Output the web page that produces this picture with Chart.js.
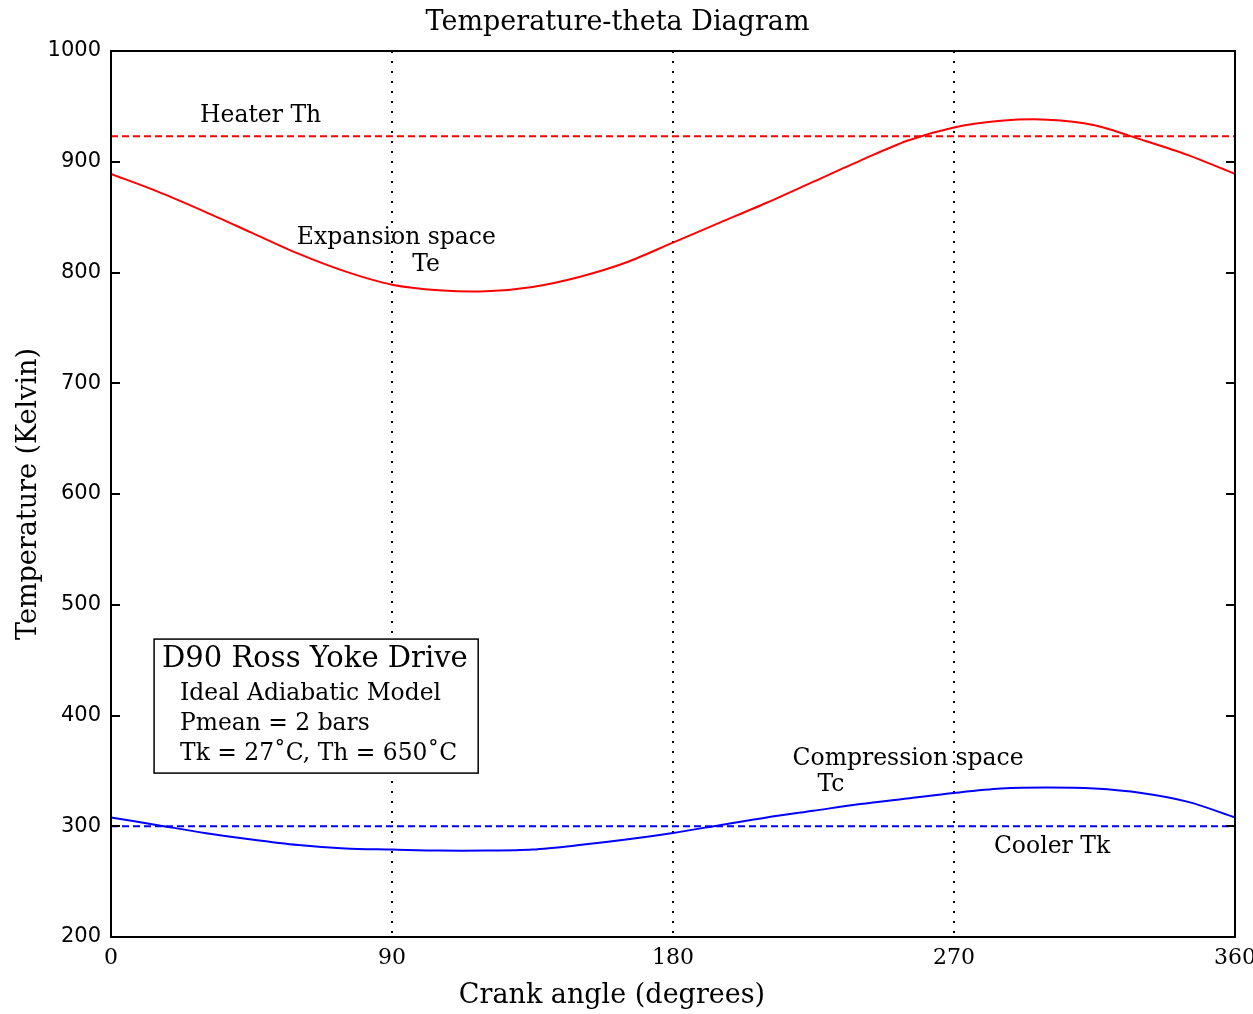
<!DOCTYPE html>
<html>
<head>
<title>Temperature-theta Diagram</title>
<script src="https://cdn.jsdelivr.net/npm/chart.js"></script>
<style>
  body { margin: 0; background: #ffffff; }
  #chart { display: block; }
</style>
</head>
<body>
<canvas id="chart" width="1253" height="1014"></canvas>
<script>
// crank angle (degrees)
const angles = [0, 15, 30, 45, 60, 75, 90, 105, 120, 135, 150, 165, 180,
                195, 210, 225, 240, 255, 270, 285, 300, 315, 330, 345, 360];
// expansion space temperature Te (K)
const expansionTe = [889, 873, 855, 836, 817, 801, 789, 784, 783, 787, 796, 809, 827,
                     845, 863, 882, 901, 919, 931, 937, 938, 933, 920, 906, 889];
// compression space temperature Tc (K)
const compressionTc = [308, 301, 294, 288, 283, 280, 279, 278, 278, 279, 283, 288, 294,
                       301, 308, 314, 320, 325, 330, 334, 335, 334, 330, 322, 308];
// heater and cooler (constant over the cycle)
const lineAngles = [0, 360];
const heaterTh = [923, 923];
const coolerTk = [300, 300];

const serif = '"DejaVu Serif", "Liberation Serif", serif';
const sans = '"DejaVu Sans", "Liberation Sans", sans-serif';

const pts = (xs, ys) => xs.map((x, i) => ({ x: x, y: ys[i] }));

// text drawn on the plot, placed in data units
const notes = [
  { text: 'Heater Th', x: 28.5, y: 941, align: 'left' },
  { text: 'Expansion space', x: 91.4, y: 831, align: 'center' },
  { text: 'Te', x: 100.9, y: 806.5, align: 'center' },
  { text: 'Compression space', x: 255.3, y: 360.5, align: 'center' },
  { text: 'Tc', x: 230.6, y: 337, align: 'center' },
  { text: 'Cooler Tk', x: 301.4, y: 281, align: 'center' }
];

const boxLines = ['Ideal Adiabatic Model', 'Pmean = 2 bars', 'Tk = 27\u02DAC, Th = 650\u02DAC'];

const framePlugin = {
  id: 'frame',
  afterDraw(chart) {
    const { ctx, chartArea: a, scales: { x, y } } = chart;
    ctx.save();
    ctx.strokeStyle = '#000';
    ctx.lineWidth = 2;
    ctx.strokeRect(a.left, a.top, a.right - a.left, a.bottom - a.top);
    ctx.beginPath();
    y.ticks.forEach(t => {
      const py = Math.round(y.getPixelForValue(t.value));
      ctx.moveTo(a.left, py); ctx.lineTo(a.left + 9, py);
      ctx.moveTo(a.right, py); ctx.lineTo(a.right - 9, py);
    });
    ctx.stroke();

    // curve labels
    ctx.fillStyle = '#000';
    ctx.textBaseline = 'middle';
    ctx.font = '23.5px ' + serif;
    notes.forEach(n => {
      ctx.textAlign = n.align;
      ctx.fillText(n.text, x.getPixelForValue(n.x), y.getPixelForValue(n.y));
    });

    // info box
    const bl = x.getPixelForValue(13.8), br = x.getPixelForValue(117.6);
    const bt = y.getPixelForValue(469), bb = y.getPixelForValue(348);
    ctx.fillStyle = '#fff';
    ctx.fillRect(bl, bt, br - bl, bb - bt);
    ctx.lineWidth = 1.5;
    ctx.strokeRect(bl, bt, br - bl, bb - bt);
    ctx.fillStyle = '#000';
    ctx.textAlign = 'left';
    ctx.font = '29px ' + serif;
    ctx.fillText('D90 Ross Yoke Drive', bl + 8, y.getPixelForValue(451));
    ctx.font = '23.4px ' + serif;
    const rows = [419.3, 392.2, 365];
    boxLines.forEach((s, i) => ctx.fillText(s, bl + 26, y.getPixelForValue(rows[i])));

    // x axis title
    ctx.textAlign = 'center';
    ctx.font = '27px ' + serif;
    ctx.fillText('Crank angle (degrees)', 612, 996);
    ctx.restore();
  }
};

const config = {
  type: 'line',
  data: {
    datasets: [
      { label: 'Te', data: pts(angles, expansionTe), borderColor: '#ff0000',
        borderWidth: 2, tension: 0.3 },
      { label: 'Tc', data: pts(angles, compressionTc), borderColor: '#0000ff',
        borderWidth: 2, tension: 0.3 },
      { label: 'Th', data: pts(lineAngles, heaterTh), borderColor: '#ff0000',
        borderWidth: 2, borderDash: [7, 4] },
      { label: 'Tk', data: pts(lineAngles, coolerTk), borderColor: '#0000ff',
        borderWidth: 2, borderDash: [7, 4] }
    ]
  },
  options: {
    responsive: false,
    animation: false,
    elements: { point: { radius: 0 } },
    layout: { padding: { top: 0, right: 18, bottom: 0, left: 0 } },
    plugins: {
      legend: { display: false },
      tooltip: { enabled: false },
      title: {
        display: true,
        text: 'Temperature-theta Diagram',
        color: '#000',
        font: { family: serif, size: 27, weight: 'normal' },
        padding: { top: 7, bottom: 11.6 }
      }
    },
    scales: {
      x: {
        type: 'linear',
        min: 0, max: 360,
        afterFit(s) { s.height = 77; s.paddingLeft = 0; s.paddingRight = 0; },
        border: { display: false, dash: [2, 8] },
        grid: {
          drawTicks: false,
          lineWidth: 2,
          color: c => (c.tick && c.tick.value > 0 && c.tick.value < 360) ? '#000' : 'rgba(0,0,0,0)'
        },
        ticks: {
          stepSize: 90, autoSkip: false, padding: 8, maxRotation: 0,
          color: '#000', font: { family: serif, size: 22 }
        }
      },
      y: {
        min: 200, max: 1000,
        afterFit(s) { s.width = 111; s.paddingTop = 0; s.paddingBottom = 0; },
        border: { display: false },
        grid: { display: false, drawTicks: false },
        ticks: {
          stepSize: 100, padding: 10,
          color: '#000', font: { family: sans, size: 21 },
          callback: v => String(v)
        },
        title: {
          display: true,
          text: 'Temperature (Kelvin)',
          color: '#000',
          font: { family: serif, size: 27 },
          padding: { top: 13 }
        }
      }
    }
  },
  plugins: [framePlugin]
};

new Chart(document.getElementById('chart'), config);
</script>
</body>
</html>
